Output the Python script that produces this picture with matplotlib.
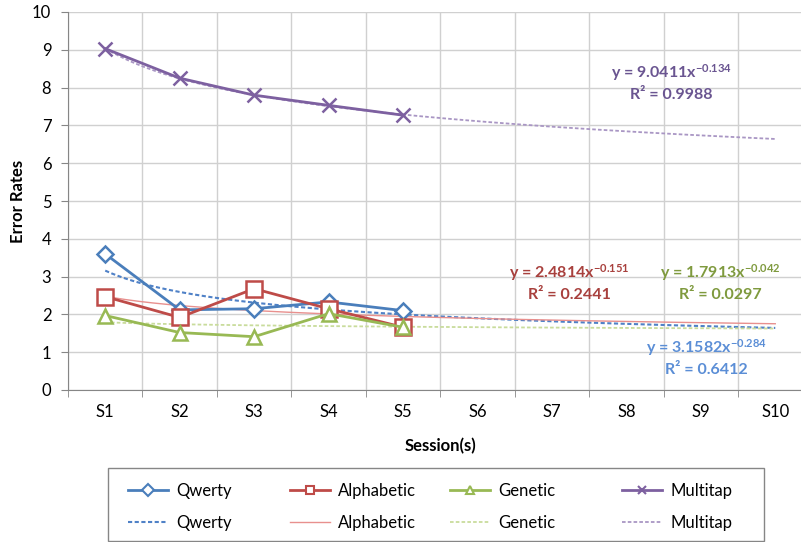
import numpy as np
import matplotlib
matplotlib.use('Agg')
import matplotlib.pyplot as plt
from matplotlib.lines import Line2D
from matplotlib.patches import Rectangle

plt.rcParams['font.family'] = ['Lato', 'DejaVu Sans']
plt.rcParams['mathtext.default'] = 'regular'

# Data
sessions = ['S1', 'S2', 'S3', 'S4', 'S5', 'S6', 'S7', 'S8', 'S9', 'S10']
qwerty = [3.6, 2.12, 2.15, 2.33, 2.1]
alphabetic = [2.47, 1.92, 2.68, 2.15, 1.66]
genetic = [1.97, 1.52, 1.41, 2.02, 1.66]
multitap = [9.03, 8.25, 7.8, 7.53, 7.27]

# Power trendline coefficients shown on the chart (y = a * x^b)
names = ['Qwerty', 'Alphabetic', 'Genetic', 'Multitap']
trend_a = [3.1582, 2.4814, 1.7913, 9.0411]
trend_b = ['-0.284', '-0.151', '-0.042', '-0.134']
trend_r2 = ['0.6412', '0.2441', '0.0297', '0.9988']

colors = ['#4A7EBB', '#BE4B48', '#98B954', '#7D60A0']
trend_colors = ['#4F81C7', '#E8908E', '#C9DC9C', '#A996C4']
text_colors = ['#5B8ED6', '#A8403D', '#7F9A3E', '#6A5591']
markers = ['D', 's', '^', 'x']
msizes = [8, 11, 10, 10]
trend_styles = [(0, (2, 1.2)), '-', (0, (2, 1.2)), (0, (2, 1.2))]
trend_widths = [1.5, 1.0, 1.3, 1.3]
# label centres (x in category units, y in data units)
label_pos = [(9.08, 0.82), (7.23, 2.82), (9.26, 2.82), (8.6, 8.1)]
# legend column starts in pixels
legend_cols = [128, 290, 450, 622]

series = [qwerty, alphabetic, genetic, multitap]

fig = plt.figure(figsize=(8.01, 5.42), dpi=100)
ax = fig.add_axes([68 / 801, 1 - 390 / 542, (812.5 - 68) / 801, (390 - 12) / 542])

x_all = np.arange(1, len(sessions) + 1)
for i, vals in enumerate(series):
    x = np.arange(1, len(vals) + 1)
    fill = 'white' if markers[i] != 'x' else colors[i]
    ax.plot(x, vals, color=colors[i], lw=2, marker=markers[i], ms=msizes[i],
            mfc=fill, mec=colors[i], mew=1.8, zorder=4)
    xt = np.linspace(1, 10, 200)
    ax.plot(xt, trend_a[i] * xt ** float(trend_b[i]), color=trend_colors[i],
            lw=trend_widths[i], ls=trend_styles[i], zorder=3)
    lx, ly = label_pos[i]
    ax.text(lx, ly + 0.3, 'y = %.4fx$^{%s}$' % (trend_a[i], trend_b[i]),
            color=text_colors[i], fontsize=11.5, fontweight='bold', ha='center', va='center', zorder=5)
    ax.text(lx, ly - 0.3, 'R² = ' + trend_r2[i], color=text_colors[i], fontsize=11.5,
            fontweight='bold', ha='center', va='center', zorder=5)

    # legend column: small-marker line and trend line
    h = Line2D([], [], color=colors[i], lw=2, marker=markers[i], ms=6,
               mfc=fill, mec=colors[i], mew=1.5)
    t = Line2D([], [], color=trend_colors[i], lw=trend_widths[i], ls=trend_styles[i])
    leg = fig.legend(handles=[h, t], labels=[names[i], names[i]], loc='upper left',
                     bbox_to_anchor=(legend_cols[i] / 801, 1 - 483 / 542),
                     frameon=False, fontsize=12, handlelength=2.4, handletextpad=0.5,
                     labelspacing=0.95, borderpad=0, borderaxespad=0)

fig.patches.append(Rectangle((108 / 801, 1 - 541 / 542), (764 - 108) / 801, (541 - 468) / 542,
                             transform=fig.transFigure, fill=False, edgecolor='#868686', lw=1))

ax.set_xlim(0.5, 10.5)
ax.set_ylim(0, 10)
ax.set_yticks(range(0, 11))
ax.set_xticks(x_all)
ax.set_xticklabels(sessions)
ax.set_xticks(np.arange(0.5, 10.6, 1), minor=True)
ax.tick_params(axis='x', which='major', length=0, labelsize=12, pad=10)
ax.tick_params(axis='x', which='minor', length=5, color='#868686')
ax.tick_params(axis='y', length=5, color='#868686', labelsize=12, pad=7)
ax.grid(True, axis='y', color='#D0D0D0', lw=1)
ax.grid(True, axis='x', which='minor', color='#D0D0D0', lw=1)
ax.set_axisbelow(True)
for s in ['top', 'right']:
    ax.spines[s].set_visible(False)
for s in ['left', 'bottom']:
    ax.spines[s].set_color('#868686')

ax.set_xlabel('Session(s)', fontsize=12, fontweight='bold')
ax.set_ylabel('Error Rates', fontsize=12, fontweight='bold')
ax.xaxis.set_label_coords(0.5, -(438 - 390) / 378)
ax.yaxis.set_label_coords((26 - 68) / 744.5, 0.5)

fig.savefig('out.png', dpi=100)
